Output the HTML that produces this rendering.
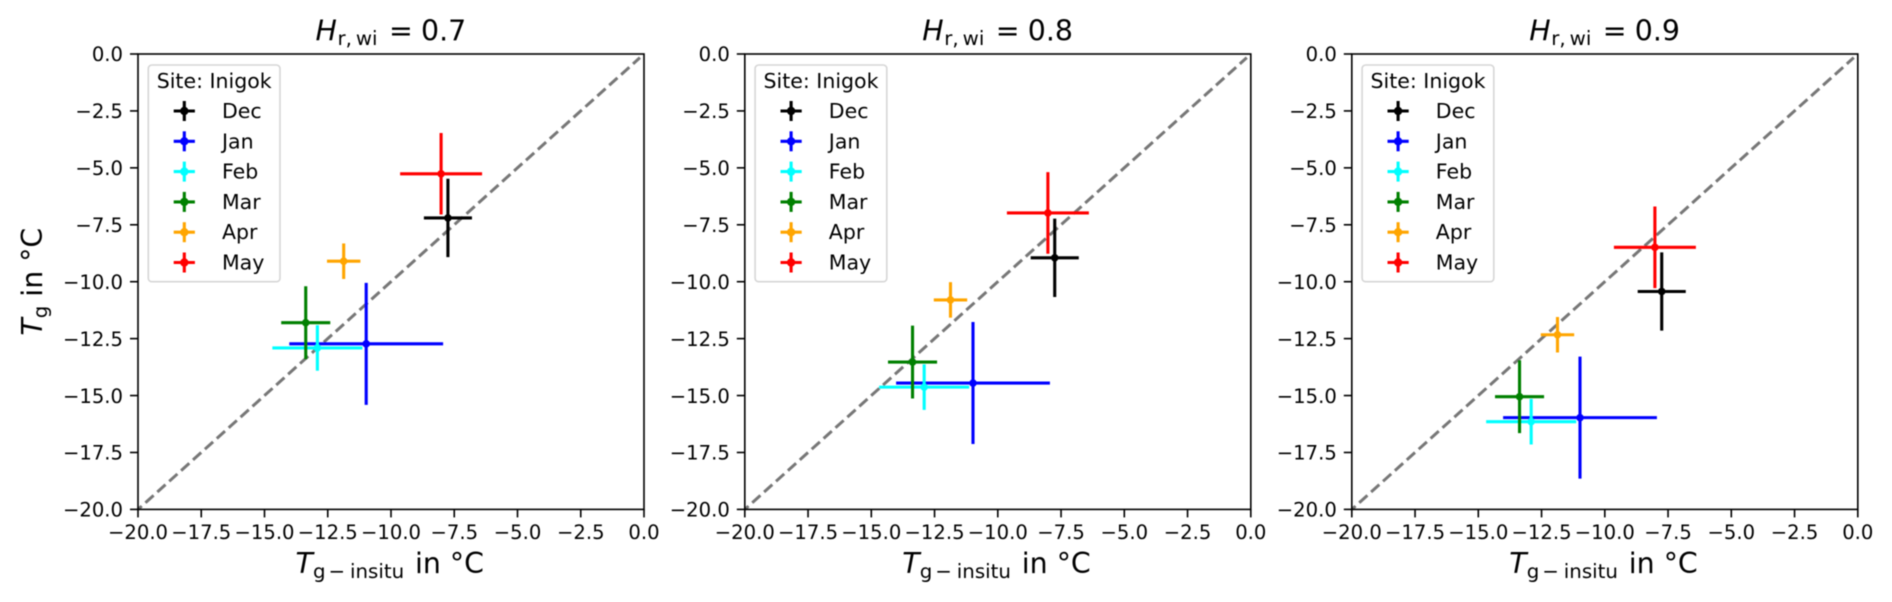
<!DOCTYPE html>
<html lang="en">
<head>
<meta charset="utf-8">
<title>Ground temperature comparison at Inigok</title>
<style>
  html, body { margin: 0; padding: 0; background: #fff; }
  body { width: 1892px; height: 602px; overflow: hidden; }
  svg { display: block; filter: blur(0.5px); }
  text { font-family: "DejaVu Sans", "Liberation Sans", sans-serif; fill: #000; }
</style>
</head>
<body>
<svg id="chart" xmlns="http://www.w3.org/2000/svg" width="1892" height="602" viewBox="0 0 1892 602"></svg>
<script>
// ---- data ----
const months = ['Dec', 'Jan', 'Feb', 'Mar', 'Apr', 'May'];
const monthColors = ['#000000', '#0000ff', '#00ffff', '#008000', '#ffa500', '#ff0000'];
const insituValues = [-7.75, -10.98, -12.91, -13.37, -11.87, -8.02];
const insituErrors = [0.95, 3.04, 1.78, 0.97, 0.66, 1.62];
const modelErrors = [1.72, 2.68, 1.0, 1.6, 0.78, 1.79];
const modelValues07 = [-7.2, -12.73, -12.91, -11.8, -9.1, -5.26];
const modelValues08 = [-8.95, -14.45, -14.63, -13.53, -10.8, -6.98];
const modelValues09 = [-10.43, -15.97, -16.15, -15.05, -12.33, -8.49];
const humidityLabels = ['0.7', '0.8', '0.9'];
const tickValues = [-20, -17.5, -15, -12.5, -10, -7.5, -5, -2.5, 0];
const tickLabels = ['\u221220.0', '\u221217.5', '\u221215.0', '\u221212.5', '\u221210.0', '\u22127.5', '\u22125.0', '\u22122.5', '0.0'];

// ---- layout ----
const panelLefts = [138, 744.8, 1351.8];
const panelWidth = 506;
const panelTop = 54;
const panelHeight = 455.4;
const panelSeries = [modelValues07, modelValues08, modelValues09];
const labelSize = 28.4;
const subSize = 19.8;

const svgRoot = document.getElementById('chart');
const NS = 'http://www.w3.org/2000/svg';

function make(parent, tag, attrs, content) {
  const el = document.createElementNS(NS, tag);
  for (const k in attrs) el.setAttribute(k, attrs[k]);
  if (content !== undefined) el.textContent = content;
  parent.appendChild(el);
  return el;
}
function xScale(left, v) { return left + (v + 20) / 20 * panelWidth; }
function yScale(v) { return panelTop - v / 20 * panelHeight; }

function addErrorCross(group, cx, cy, hx, hy, color, r) {
  const h = make(group, 'line', { x1: cx - hx, x2: cx + hx, y1: cy, y2: cy, stroke: color, 'stroke-width': 3.1 });
  
  
  const v = make(group, 'line', { x1: cx, x2: cx, y1: cy - hy, y2: cy + hy, stroke: color, 'stroke-width': 3.1 });
  
  
  const c = make(group, 'circle', { cx: cx, cy: cy, r: r, fill: color });
  
  
}

panelLefts.forEach(function (left, p) {
  const dx = left - panelLefts[0];
  const values = panelSeries[p];

  const panel = make(svgRoot, 'g', {});
  
  

  // title
  const title = make(panel, 'text', { y: 40.7, 'font-size': labelSize });
  
  
  make(title, 'tspan', { x: 315.5 + dx, 'font-style': 'italic' }, 'H');
  make(title, 'tspan', { x: 337.5 + dx, dy: 4.5, 'font-size': subSize }, 'r,\u2009wi');
  make(title, 'tspan', { x: 389 + dx, dy: -4.5 }, '=');
  make(title, 'tspan', { x: 421 + dx }, humidityLabels[p]);

  // diagonal reference line
  const diag = make(panel, 'line', {
    x1: xScale(left, -20), y1: yScale(-20), x2: xScale(left, -0.16), y2: yScale(-0.16),
    stroke: '#777777', 'stroke-width': 3, 'stroke-dasharray': '11 5', 'stroke-dashoffset': 6
  });
  
  

  // series
  months.forEach(function (m, i) {
    const g = make(panel, 'g', {});
    
    
    const cx = xScale(left, insituValues[i]);
    const cy = yScale(values[i]);
    const hx = xScale(left, insituValues[i] + insituErrors[i]) - cx;
    const hy = yScale(values[i] - modelErrors[i]) - cy;
    addErrorCross(g, cx, cy, hx, hy, monthColors[i], 3.8);
  });

  // axes frame
  const frame = make(panel, 'rect', { x: left, y: panelTop, width: panelWidth, height: panelHeight, fill: 'none', stroke: '#000', 'stroke-width': 1.6 });
  
  

  // ticks
  tickValues.forEach(function (t, i) {
    const xt = xScale(left, t);
    const xTick = make(panel, 'line', { x1: xt, x2: xt, y1: panelTop + panelHeight, y2: panelTop + panelHeight + 8, stroke: '#000', 'stroke-width': 1.6 });
    
    
    const xLab = make(panel, 'text', { x: xt, y: 539, 'font-size': 19.6, 'text-anchor': 'middle' }, tickLabels[i]);
    
    

    const yt = yScale(t);
    const yTick = make(panel, 'line', { x1: left - 8, x2: left, y1: yt, y2: yt, stroke: '#000', 'stroke-width': 1.6 });
    
    
    const yLab = make(panel, 'text', { x: left - 15, y: yt + 7.2, 'font-size': 19.6, 'text-anchor': 'end' }, tickLabels[i]);
    
    
  });

  // x axis label
  const xTitle = make(panel, 'text', { y: 573, 'font-size': labelSize });
  
  
  make(xTitle, 'tspan', { x: 295.5 + dx, 'font-style': 'italic' }, 'T');
  make(xTitle, 'tspan', { x: 313 + dx, dy: 5, 'font-size': subSize }, 'g');
  make(xTitle, 'tspan', { x: 328.5 + dx, 'font-size': subSize }, '\u2212');
  make(xTitle, 'tspan', { x: 350 + dx, 'font-size': subSize }, 'insitu');
  make(xTitle, 'tspan', { x: 415 + dx, dy: -5 }, 'in \u00b0C');

  // legend
  const legend = make(panel, 'g', {});
  
  
  const box = make(legend, 'rect', { x: 148.3 + dx, y: 65, width: 131.7, height: 216.7, rx: 3.5, fill: '#fff', 'fill-opacity': 0.8, stroke: '#d6d6d6', 'stroke-width': 1.6 });
  
  
  const legendTitle = make(legend, 'text', { x: 214.2 + dx, y: 88, 'font-size': 20.5, 'text-anchor': 'middle' }, 'Site: Inigok');
  
  
  months.forEach(function (m, i) {
    const row = make(legend, 'g', {});
    
    
    const ly = 111 + i * 30.3;
    addErrorCross(row, 184.3 + dx, ly, 10.6, 10, monthColors[i], 4.2);
    const lab = make(row, 'text', { x: 222 + dx, y: ly + 7, 'font-size': 20.5 }, m);
    
    
  });
});

// y axis label (left panel only)
const yTitle = make(svgRoot, 'text', { transform: 'translate(42 281.7) rotate(-90)', 'font-size': labelSize, 'text-anchor': 'middle' });


make(yTitle, 'tspan', { 'font-style': 'italic' }, 'T');
make(yTitle, 'tspan', { dy: 5, 'font-size': subSize }, 'g');
make(yTitle, 'tspan', { dy: -5 }, ' in \u00b0C');
</script>
</body>
</html>
